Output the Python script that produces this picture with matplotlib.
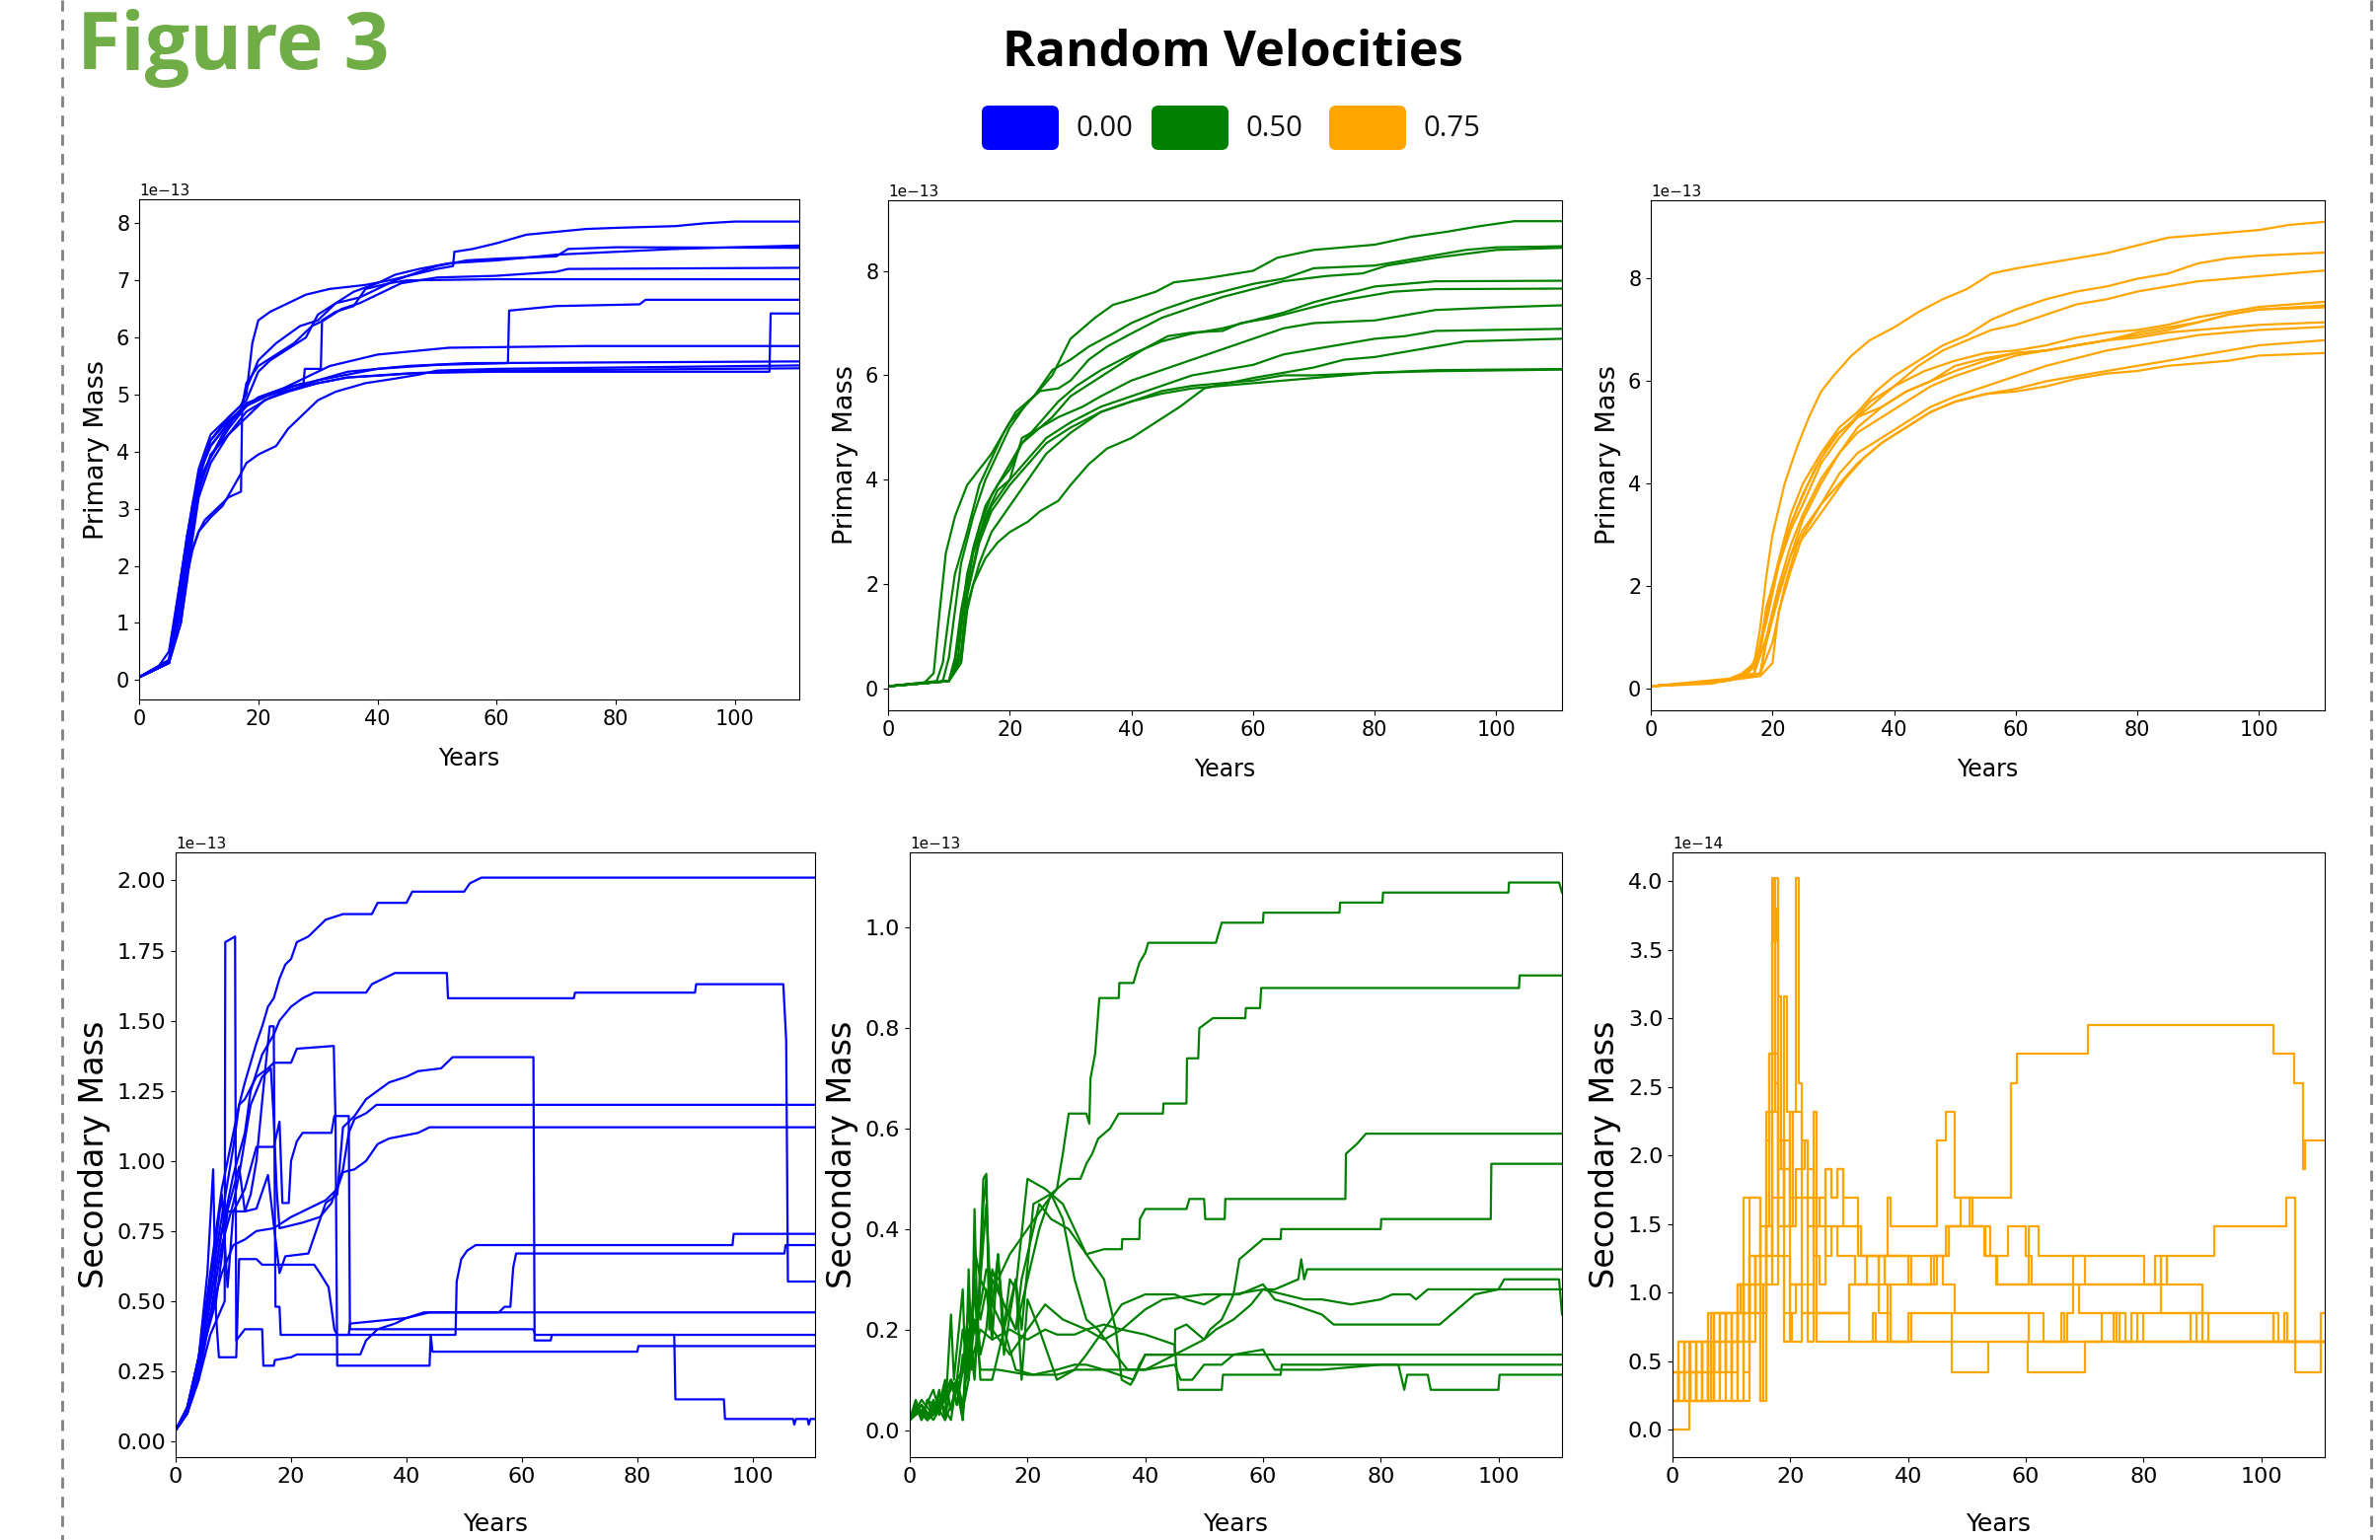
import matplotlib
matplotlib.use("Agg")
import matplotlib.pyplot as plt
from matplotlib.patches import FancyBboxPatch
from matplotlib.ticker import MultipleLocator

# ---- data: (years, mass) per run; mass in units of the panel's axis offset ----
blue_primary = [
    [(0, 0.05), (3, 0.2), (5, 0.5), (7, 1.8), (8, 2.5), (9, 3.0), (10, 3.5), (12, 4.2), (15, 4.6), (17, 4.8),
     (18, 5.0), (19, 5.9), (20, 6.3), (22, 6.45), (25, 6.6), (28, 6.75), (32, 6.85), (38, 6.92), (42, 7.0),
     (46, 7.1), (50, 7.2), (52.7, 7.25), (52.9, 7.5), (56, 7.55), (60, 7.65), (65, 7.8), (70, 7.85), (75, 7.9),
     (80, 7.92), (90, 7.95), (95, 8.0), (100, 8.03), (110.8, 8.03)],
    [(0, 0.05), (5, 0.3), (7, 1.2), (8, 2.2), (9, 3.0), (10, 3.6), (12, 4.1), (15, 4.5), (17, 4.7), (18, 5.1),
     (20, 5.6), (23, 5.9), (27, 6.2), (30, 6.3), (33, 6.6), (36, 6.8), (40, 6.95), (43, 7.1), (47, 7.2),
     (52, 7.3), (60, 7.35), (70, 7.45), (80, 7.5), (90, 7.55), (100, 7.58), (110.8, 7.61)],
    [(0, 0.05), (5, 0.35), (7, 1.5), (8, 2.5), (10, 3.7), (12, 4.3), (15, 4.6), (18, 4.9), (20, 5.4), (22, 5.6),
     (25, 5.8), (28, 6.0), (30, 6.4), (33, 6.6), (37, 6.7), (40, 6.85), (43, 7.0), (47, 7.15), (50, 7.25),
     (55, 7.35), (60, 7.38), (70, 7.42), (72, 7.55), (80, 7.58), (110.8, 7.57)],
    [(0, 0.05), (5, 0.3), (7, 1.0), (8, 1.8), (9, 2.3), (10, 2.6), (11, 2.8), (13, 3.0), (15, 3.2), (17.1, 3.3),
     (17.3, 4.8), (18, 5.2), (20, 5.5), (23, 5.7), (26, 5.9), (29, 6.2), (31, 6.3), (34, 6.5), (37, 6.6),
     (40, 6.75), (44, 6.95), (50, 7.05), (60, 7.08), (70, 7.15), (72, 7.2), (110.8, 7.22)],
    [(0, 0.05), (5, 0.3), (7, 1.2), (8, 2.0), (9, 2.8), (10, 3.4), (12, 3.9), (14, 4.3), (16, 4.6), (18, 4.8),
     (20, 4.95), (24, 5.1), (27.6, 5.2), (27.8, 5.45), (30.5, 5.45), (30.7, 6.3), (33, 6.45), (36, 6.55),
     (38, 6.85), (42, 6.95), (45, 7.0), (60, 7.02), (110.8, 7.02)],
    [(0, 0.05), (5, 0.3), (7, 1.5), (9, 2.8), (10, 3.6), (12, 4.1), (15, 4.5), (18, 4.85), (22, 5.0), (26, 5.15),
     (30, 5.25), (35, 5.4), (40, 5.45), (50, 5.52), (61.9, 5.55), (62.1, 6.47), (70, 6.55), (84, 6.58),
     (85, 6.66), (110.8, 6.66)],
    [(0, 0.05), (5, 0.3), (7, 1.7), (9, 3.0), (10, 3.6), (12, 4.2), (15, 4.55), (18, 4.8), (22, 5.0), (26, 5.1),
     (30, 5.2), (35, 5.3), (40, 5.33), (47, 5.38), (60, 5.4), (105.8, 5.4), (106, 6.42), (110.8, 6.42)],
    [(0, 0.05), (5, 0.35), (7, 1.8), (9, 3.1), (10, 3.5), (12, 3.9), (15, 4.4), (18, 4.8), (20, 4.95), (24, 5.1),
     (28, 5.3), (32, 5.5), (36, 5.6), (40, 5.7), (45, 5.75), (52, 5.82), (75, 5.85), (110.8, 5.85)],
    [(0, 0.05), (5, 0.3), (7, 1.3), (9, 2.6), (10, 3.3), (12, 3.95), (15, 4.3), (18, 4.7), (22, 4.95), (26, 5.1),
     (30, 5.25), (35, 5.35), (40, 5.45), (45, 5.5), (55, 5.55), (110.8, 5.58)],
    [(0, 0.05), (5, 0.3), (8, 2.0), (10, 2.6), (12, 2.85), (14, 3.05), (17, 3.6), (18, 3.8), (20, 3.95),
     (23, 4.1), (25, 4.4), (28, 4.7), (30, 4.9), (33, 5.05), (38, 5.2), (43, 5.28), (47, 5.35), (50, 5.42),
     (60, 5.45), (110.8, 5.51)],
    [(0, 0.05), (5, 0.3), (7, 1.0), (8, 1.7), (9, 2.5), (10, 3.2), (12, 3.8), (15, 4.3), (18, 4.6), (21, 4.9),
     (25, 5.05), (30, 5.2), (35, 5.3), (45, 5.37), (60, 5.42), (110.8, 5.46)],
]

green_primary = [
    [(0, 0.05), (6, 0.12), (7.5, 0.3), (8.5, 1.5), (9.5, 2.6), (11, 3.3), (13, 3.9), (15, 4.2), (17, 4.5),
     (20, 5.1), (24, 5.6), (27, 6.0), (30, 6.7), (34, 7.1), (37, 7.35), (40, 7.45), (44, 7.6), (47, 7.78),
     (52, 7.85), (60, 8.0), (64, 8.25), (70, 8.4), (80, 8.5), (86, 8.65), (92, 8.75), (97, 8.85), (103, 8.95),
     (110.8, 8.95)],
    [(0, 0.05), (8, 0.15), (9, 0.5), (10, 1.4), (11, 2.2), (13, 3.0), (15, 3.9), (17, 4.4), (19, 4.9), (21, 5.3),
     (24, 5.6), (27, 6.1), (30, 6.3), (33, 6.55), (37, 6.8), (40, 7.0), (45, 7.25), (50, 7.45), (55, 7.6),
     (60, 7.75), (65, 7.85), (70, 8.05), (80, 8.1), (85, 8.2), (90, 8.3), (95, 8.4), (100, 8.45), (110.8, 8.47)],
    [(0, 0.05), (9, 0.15), (10, 0.6), (11, 1.5), (12, 2.4), (14, 3.3), (16, 4.0), (18, 4.5), (20, 5.0),
     (23, 5.5), (25, 5.7), (28, 5.75), (30, 5.9), (33, 6.3), (36, 6.55), (40, 6.8), (45, 7.1), (50, 7.3),
     (55, 7.5), (60, 7.65), (65, 7.8), (72, 7.9), (78, 7.95), (82, 8.1), (90, 8.25), (100, 8.4), (110.8, 8.44)],
    [(0, 0.05), (10, 0.15), (11, 0.5), (12, 1.3), (13, 2.2), (15, 3.1), (17, 3.7), (20, 4.3), (22, 4.7),
     (25, 5.1), (28, 5.5), (31, 5.8), (35, 6.1), (40, 6.4), (45, 6.65), (50, 6.8), (55, 6.9), (60, 7.05),
     (65, 7.2), (70, 7.4), (75, 7.55), (80, 7.7), (90, 7.8), (110.8, 7.81)],
    [(0, 0.05), (10, 0.15), (11, 0.6), (12, 1.5), (14, 2.7), (16, 3.5), (18, 3.9), (20, 4.2), (22, 4.7),
     (24, 4.9), (27, 5.2), (30, 5.6), (34, 5.9), (38, 6.2), (42, 6.5), (46, 6.75), (50, 6.82), (55, 6.85),
     (58, 7.0), (63, 7.1), (68, 7.25), (73, 7.4), (78, 7.5), (83, 7.6), (90, 7.65), (110.8, 7.66)],
    [(0, 0.05), (10, 0.15), (11.5, 0.6), (12.5, 1.6), (14, 2.6), (16, 3.3), (18, 3.8), (20, 4.0), (22, 4.8),
     (25, 5.0), (28, 5.2), (32, 5.4), (35, 5.6), (40, 5.9), (45, 6.1), (50, 6.3), (55, 6.5), (60, 6.7),
     (65, 6.9), (70, 7.0), (80, 7.05), (85, 7.15), (90, 7.25), (100, 7.3), (110.8, 7.34)],
    [(0, 0.05), (10, 0.15), (12, 0.6), (13, 1.8), (15, 2.9), (17, 3.5), (20, 4.0), (23, 4.4), (26, 4.8),
     (30, 5.1), (35, 5.4), (40, 5.6), (45, 5.8), (50, 6.0), (55, 6.1), (60, 6.2), (65, 6.4), (70, 6.5),
     (75, 6.6), (80, 6.7), (85, 6.75), (90, 6.85), (110.8, 6.89)],
    [(0, 0.05), (10, 0.15), (12, 0.5), (13, 1.5), (14, 2.0), (16, 2.5), (18, 2.8), (20, 3.0), (23, 3.2),
     (25, 3.4), (28, 3.6), (30, 3.9), (33, 4.3), (36, 4.6), (40, 4.8), (44, 5.1), (48, 5.4), (52, 5.75),
     (56, 5.85), (60, 5.95), (65, 6.05), (70, 6.15), (75, 6.3), (80, 6.35), (85, 6.45), (90, 6.55), (95, 6.65),
     (110.8, 6.70)],
    [(0, 0.05), (10, 0.15), (12, 0.5), (13, 1.6), (15, 2.4), (17, 3.0), (20, 3.5), (23, 4.0), (26, 4.5),
     (30, 4.9), (35, 5.3), (40, 5.5), (45, 5.7), (50, 5.8), (55, 5.85), (60, 5.9), (65, 6.0), (70, 6.0),
     (80, 6.05), (90, 6.1), (110.8, 6.12)],
    [(0, 0.05), (10, 0.15), (12, 0.7), (13, 1.8), (15, 2.8), (17, 3.4), (20, 3.9), (23, 4.3), (26, 4.7),
     (30, 5.0), (35, 5.3), (40, 5.5), (45, 5.65), (50, 5.75), (55, 5.8), (60, 5.85), (70, 5.95), (80, 6.05),
     (90, 6.08), (110.8, 6.11)],
]

orange_primary = [
    [(0, 0.05), (10, 0.1), (14, 0.2), (17, 0.5), (18, 1.2), (19, 2.2), (20, 3.0), (22, 4.0), (24, 4.7),
     (26, 5.3), (28, 5.8), (30, 6.1), (33, 6.5), (36, 6.8), (40, 7.05), (44, 7.35), (48, 7.6), (52, 7.8),
     (56, 8.1), (60, 8.2), (65, 8.3), (70, 8.4), (75, 8.5), (80, 8.65), (85, 8.8), (90, 8.85), (95, 8.9),
     (100, 8.95), (105, 9.05), (110.8, 9.11)],
    [(0, 0.05), (12, 0.15), (16, 0.3), (18, 0.7), (19, 1.5), (21, 2.5), (23, 3.4), (25, 4.0), (28, 4.6),
     (31, 5.1), (34, 5.4), (37, 5.8), (40, 6.1), (44, 6.4), (48, 6.7), (52, 6.9), (56, 7.2), (60, 7.4),
     (65, 7.6), (70, 7.75), (75, 7.85), (80, 8.0), (85, 8.1), (90, 8.3), (95, 8.4), (100, 8.45), (110.8, 8.51)],
    [(0, 0.05), (12, 0.15), (16, 0.3), (18, 0.8), (19, 1.6), (21, 2.4), (23, 3.2), (25, 3.8), (28, 4.5),
     (31, 5.0), (34, 5.3), (37, 5.6), (40, 5.9), (44, 6.3), (48, 6.6), (52, 6.8), (56, 7.0), (60, 7.1),
     (65, 7.3), (70, 7.5), (75, 7.6), (80, 7.75), (85, 7.85), (90, 7.95), (100, 8.05), (110.8, 8.16)],
    [(0, 0.05), (12, 0.15), (17, 0.3), (18, 0.9), (20, 2.0), (22, 2.9), (24, 3.5), (27, 4.3), (30, 4.9),
     (33, 5.2), (36, 5.6), (40, 5.9), (45, 6.2), (50, 6.4), (55, 6.55), (60, 6.6), (65, 6.7), (70, 6.85),
     (75, 6.95), (80, 7.0), (85, 7.1), (90, 7.25), (95, 7.35), (100, 7.45), (110.8, 7.55)],
    [(0, 0.05), (13, 0.2), (17, 0.4), (19, 1.3), (21, 2.4), (23, 3.1), (25, 3.6), (28, 4.4), (31, 4.9),
     (34, 5.3), (38, 5.5), (42, 5.8), (46, 6.0), (50, 6.3), (55, 6.45), (60, 6.55), (65, 6.6), (70, 6.7),
     (75, 6.8), (80, 6.95), (85, 7.05), (90, 7.15), (95, 7.3), (100, 7.4), (110.8, 7.48)],
    [(0, 0.05), (12, 0.15), (17, 0.3), (19, 1.0), (21, 2.0), (23, 2.8), (25, 3.4), (28, 4.1), (31, 4.6),
     (34, 5.0), (38, 5.3), (42, 5.6), (46, 5.9), (50, 6.1), (55, 6.3), (60, 6.5), (65, 6.6), (70, 6.7),
     (75, 6.8), (80, 6.9), (85, 7.0), (90, 7.15), (95, 7.3), (100, 7.4), (110.8, 7.44)],
    [(0, 0.05), (12, 0.15), (18, 0.3), (19, 0.9), (21, 1.8), (23, 2.6), (25, 3.3), (28, 4.0), (31, 4.6),
     (34, 5.1), (38, 5.5), (42, 5.8), (46, 6.0), (50, 6.2), (55, 6.4), (60, 6.55), (65, 6.6), (70, 6.7),
     (75, 6.8), (80, 6.85), (85, 6.95), (90, 7.0), (95, 7.05), (100, 7.1), (110.8, 7.15)],
    [(0, 0.05), (12, 0.15), (18, 0.25), (20, 0.5), (21, 1.5), (23, 2.3), (25, 3.0), (28, 3.6), (31, 4.2),
     (34, 4.6), (38, 4.9), (42, 5.2), (46, 5.5), (50, 5.7), (55, 5.9), (60, 6.1), (65, 6.3), (70, 6.45),
     (75, 6.6), (80, 6.7), (85, 6.8), (90, 6.9), (100, 7.0), (110.8, 7.06)],
    [(0, 0.05), (12, 0.15), (18, 0.3), (19, 1.0), (21, 1.9), (23, 2.6), (25, 3.1), (28, 3.6), (31, 4.0),
     (34, 4.4), (38, 4.8), (42, 5.1), (46, 5.4), (50, 5.6), (55, 5.75), (60, 5.85), (65, 6.0), (70, 6.1),
     (75, 6.2), (80, 6.3), (85, 6.4), (90, 6.5), (95, 6.6), (100, 6.7), (110.8, 6.80)],
    [(0, 0.05), (12, 0.15), (18, 0.3), (20, 0.9), (22, 2.0), (24, 2.8), (26, 3.1), (29, 3.6), (32, 4.1),
     (35, 4.5), (38, 4.8), (42, 5.1), (46, 5.4), (50, 5.6), (55, 5.75), (60, 5.8), (65, 5.9), (70, 6.05),
     (75, 6.15), (80, 6.2), (85, 6.3), (90, 6.35), (95, 6.4), (100, 6.5), (110.8, 6.55)],
]

blue_secondary = [
    [(0, 0.04), (2, 0.12), (4, 0.28), (6, 0.55), (8, 0.8), (10, 1.05), (11, 1.2), (12, 1.28), (13, 1.35),
     (14, 1.42), (15, 1.48), (16, 1.55), (17, 1.58), (18, 1.65), (19, 1.7), (20, 1.72), (21, 1.78), (23, 1.8),
     (24, 1.82), (25, 1.84), (26, 1.86), (29, 1.88), (34, 1.88), (35, 1.92), (40, 1.92), (41, 1.96), (50, 1.96),
     (51, 1.99), (53, 2.01), (110.8, 2.01)],
    [(0, 0.04), (2, 0.1), (4, 0.25), (6, 0.5), (8, 0.75), (10, 0.95), (12, 1.1), (13, 1.25), (15, 1.38),
     (17, 1.45), (18, 1.5), (20, 1.55), (22, 1.58), (24, 1.6), (33, 1.6), (34, 1.63), (36, 1.65), (38, 1.67),
     (47, 1.67), (47.2, 1.58), (69, 1.58), (69.2, 1.6), (90, 1.6), (90.2, 1.63), (105.3, 1.63), (105.8, 1.43),
     (106.1, 0.57), (110.8, 0.57)],
    [(0, 0.04), (2, 0.12), (4, 0.3), (6, 0.55), (8, 0.88), (9, 0.55), (10, 0.82), (12, 0.9), (14, 1.05),
     (17, 1.05), (18, 1.14), (18.5, 0.85), (19.6, 0.85), (20, 1.0), (21, 1.07), (22, 1.1), (27, 1.1),
     (27.5, 1.16), (30, 1.16), (30.2, 0.40), (62, 0.40), (62.3, 0.38), (110.8, 0.38)],
    [(0, 0.04), (2, 0.1), (4, 0.25), (6, 0.45), (8, 0.6), (10, 0.7), (12, 0.72), (14, 0.75), (17, 0.76),
     (20, 0.8), (23, 0.83), (26, 0.86), (28, 0.9), (29, 0.96), (31, 0.97), (33, 1.0), (35, 1.06), (37, 1.08),
     (42, 1.1), (44, 1.12), (110.8, 1.12)],
    [(0, 0.04), (2, 0.12), (4, 0.3), (6, 0.5), (8, 0.75), (10, 0.9), (11, 0.98), (12, 0.82), (14, 0.83),
     (16, 0.95), (18, 0.6), (19, 0.66), (23, 0.67), (26, 0.85), (28, 0.88), (29, 1.12), (31, 1.16), (33, 1.22),
     (35, 1.25), (37, 1.28), (40, 1.3), (42, 1.32), (46, 1.33), (48, 1.37), (62, 1.37), (62.2, 0.36),
     (65, 0.36), (65.2, 0.38), (86.4, 0.38), (86.6, 0.15), (95, 0.15), (95.2, 0.08), (107, 0.08),
     (107.2, 0.06), (107.5, 0.08), (109.5, 0.08), (109.7, 0.06), (110, 0.08), (110.8, 0.08)],
    [(0, 0.04), (2, 0.1), (4, 0.22), (6, 0.45), (8, 0.7), (10, 0.85), (11, 0.95), (13, 1.2), (15, 1.3),
     (16.5, 1.33), (17, 1.15), (17.5, 0.9), (18, 0.76), (22, 0.78), (25, 0.8), (27, 0.85), (29, 0.97),
     (30, 1.1), (31, 1.15), (33, 1.17), (34.8, 1.2), (110.8, 1.2)],
    [(0, 0.04), (2, 0.12), (4, 0.3), (6, 0.6), (8, 0.9), (10, 1.1), (11, 1.2), (12, 1.22), (14, 1.3), (16, 1.33),
     (17, 1.35), (20, 1.35), (21, 1.4), (27.4, 1.41), (27.7, 1.15), (28, 0.27), (44, 0.27), (44.2, 0.38),
     (44.5, 0.32), (80, 0.32), (80.2, 0.34), (110.8, 0.34)],
    [(0, 0.04), (2, 0.1), (4, 0.22), (6, 0.38), (8.5, 0.5), (8.6, 1.78), (10.3, 1.8), (10.5, 0.36), (12, 0.4),
     (15, 0.4), (15.2, 0.27), (17, 0.27), (17.2, 0.29), (20, 0.3), (21, 0.31), (32, 0.31), (33, 0.36),
     (35, 0.4), (38, 0.42), (40, 0.44), (44, 0.46), (110.8, 0.46)],
    [(0, 0.04), (2, 0.1), (4, 0.3), (5.5, 0.6), (6.5, 0.97), (7, 0.45), (7.5, 0.3), (10.5, 0.3), (11, 0.65),
     (14, 0.65), (15, 0.63), (24, 0.63), (25, 0.6), (26.5, 0.55), (27.5, 0.4), (28, 0.38), (48.5, 0.38),
     (48.7, 0.57), (49.5, 0.65), (50.5, 0.68), (52, 0.7), (96.5, 0.7), (96.7, 0.74), (110.8, 0.74)],
    [(0, 0.04), (2, 0.1), (4, 0.25), (5, 0.35), (7, 0.5), (9, 0.82), (12, 0.82), (13, 0.88), (14, 1.0),
     (15.5, 1.32), (16.3, 1.48), (17, 1.48), (17.3, 0.48), (18, 0.48), (18.2, 0.38), (30, 0.38), (30.2, 0.42),
     (40, 0.44), (43, 0.46), (56, 0.46), (57, 0.48), (58, 0.48), (58.5, 0.62), (59, 0.67), (105.5, 0.67),
     (105.7, 0.70), (110.8, 0.70)],
]

green_secondary = [
    [(0, 0.02), (1, 0.05), (2, 0.02), (3, 0.06), (5, 0.04), (6, 0.09), (8, 0.08), (10, 0.15), (12, 0.25),
     (13, 0.32), (15, 0.3), (17, 0.35), (20, 0.4), (23, 0.45), (25, 0.48), (26, 0.55), (27, 0.63), (30, 0.63),
     (30.5, 0.61), (30.7, 0.7), (31.5, 0.75), (32.2, 0.86), (35.5, 0.86), (35.6, 0.89), (38, 0.89), (39, 0.93),
     (40, 0.95), (40.5, 0.97), (52, 0.97), (52.5, 0.99), (53, 1.01), (60, 1.01), (60.1, 1.03), (73, 1.03),
     (73.1, 1.05), (80.3, 1.05), (80.4, 1.07), (101.7, 1.07), (101.8, 1.09), (110.3, 1.09), (110.8, 1.07)],
    [(0, 0.02), (2, 0.04), (3, 0.02), (5, 0.06), (7, 0.02), (8, 0.1), (9, 0.02), (10, 0.2), (11, 0.12),
     (12, 0.3), (14, 0.25), (16, 0.2), (18, 0.3), (19, 0.2), (21, 0.45), (24, 0.47), (27, 0.5), (29, 0.5),
     (30, 0.53), (31, 0.55), (32, 0.58), (34, 0.6), (35.5, 0.63), (43, 0.63), (43.1, 0.65), (47, 0.65),
     (47.1, 0.74), (49, 0.74), (49.2, 0.8), (51.5, 0.82), (57, 0.82), (57.1, 0.84), (59.5, 0.84), (59.7, 0.88),
     (103.5, 0.88), (103.6, 0.905), (110.8, 0.905)],
    [(0, 0.02), (2, 0.06), (4, 0.03), (5, 0.05), (7, 0.1), (8, 0.05), (9, 0.12), (10, 0.2), (11, 0.1),
     (12, 0.3), (12.5, 0.45), (13, 0.5), (13.5, 0.25), (14, 0.25), (15, 0.35), (16, 0.2), (17, 0.3), (18, 0.28),
     (20, 0.5), (23, 0.48), (26, 0.45), (28, 0.4), (30, 0.35), (33, 0.36), (36, 0.36), (36.1, 0.38), (39, 0.38),
     (39.1, 0.42), (40, 0.44), (47, 0.44), (47.5, 0.46), (50, 0.46), (50.2, 0.42), (53.5, 0.42), (53.6, 0.46),
     (74, 0.46), (74.1, 0.55), (76, 0.57), (77.5, 0.59), (110.8, 0.59)],
    [(0, 0.02), (1, 0.06), (2, 0.03), (4, 0.08), (5, 0.04), (7, 0.1), (8, 0.05), (9, 0.15), (10, 0.1),
     (11, 0.3), (12, 0.15), (13, 0.2), (14, 0.32), (16, 0.25), (18, 0.2), (19, 0.3), (20, 0.35), (22, 0.45),
     (24, 0.42), (27, 0.4), (30, 0.35), (33, 0.3), (35, 0.2), (36, 0.1), (37.5, 0.09), (38, 0.1), (40, 0.15),
     (45, 0.15), (45.1, 0.2), (47, 0.21), (48, 0.2), (50, 0.18), (51, 0.2), (53, 0.22), (55, 0.27), (56, 0.34),
     (58, 0.36), (60, 0.38), (63, 0.38), (63.1, 0.4), (80, 0.4), (80.1, 0.42), (98.7, 0.42), (98.8, 0.53),
     (110.8, 0.53)],
    [(0, 0.02), (2, 0.04), (3, 0.02), (4, 0.06), (5, 0.03), (6, 0.08), (7, 0.04), (8, 0.1), (9, 0.12),
     (10, 0.25), (10.5, 0.12), (11, 0.44), (11.5, 0.2), (12, 0.35), (12.5, 0.5), (13, 0.51), (13.5, 0.2),
     (14, 0.3), (16, 0.25), (18, 0.2), (20, 0.3), (22, 0.4), (24, 0.47), (26, 0.42), (28, 0.3), (30, 0.22),
     (32, 0.2), (35, 0.15), (37, 0.12), (40, 0.12), (45, 0.15), (50, 0.18), (52, 0.2), (55, 0.22), (58, 0.25),
     (60, 0.28), (62, 0.28), (66, 0.3), (66.5, 0.34), (67, 0.3), (67.5, 0.32), (110.8, 0.32)],
    [(0, 0.02), (2, 0.05), (4, 0.02), (5, 0.04), (7, 0.08), (8, 0.1), (9, 0.05), (10, 0.15), (11, 0.3),
     (12, 0.22), (13, 0.28), (14, 0.18), (15, 0.35), (16, 0.15), (17, 0.23), (18, 0.3), (19, 0.1), (20, 0.26),
     (22, 0.2), (25, 0.1), (28, 0.12), (30, 0.15), (33, 0.2), (36, 0.25), (40, 0.27), (45, 0.27), (47, 0.26),
     (50, 0.25), (53, 0.27), (56, 0.27), (60, 0.29), (62, 0.26), (65, 0.25), (70, 0.23), (72, 0.21), (90, 0.21),
     (92, 0.23), (94, 0.25), (96, 0.27), (100, 0.28), (101, 0.3), (110.3, 0.3), (110.8, 0.23)],
    [(0, 0.02), (2, 0.05), (3, 0.02), (5, 0.07), (6, 0.03), (7, 0.23), (7.5, 0.1), (8, 0.16), (9, 0.28),
     (9.5, 0.1), (10, 0.32), (10.5, 0.14), (11, 0.36), (12, 0.3), (13, 0.45), (14, 0.2), (17, 0.15), (20, 0.2),
     (23, 0.25), (26, 0.22), (30, 0.2), (33, 0.18), (36, 0.2), (40, 0.24), (43, 0.26), (50, 0.27), (55, 0.27),
     (60, 0.28), (67, 0.26), (70, 0.26), (75, 0.25), (80, 0.26), (82, 0.27), (85, 0.27), (86, 0.26), (88, 0.28),
     (110.8, 0.28)],
    [(0, 0.02), (2, 0.05), (3, 0.03), (5, 0.05), (6, 0.1), (7, 0.04), (8, 0.1), (9, 0.2), (10, 0.12),
     (11, 0.28), (12, 0.1), (14, 0.1), (16, 0.2), (18, 0.12), (21, 0.11), (25, 0.12), (28, 0.13), (30, 0.13),
     (33, 0.12), (38, 0.1), (39, 0.13), (40, 0.15), (110.8, 0.15)],
    [(0, 0.02), (1, 0.04), (3, 0.02), (5, 0.04), (6, 0.02), (8, 0.08), (9, 0.04), (10, 0.1), (11, 0.22),
     (12, 0.12), (15, 0.12), (20, 0.11), (25, 0.11), (28, 0.12), (35, 0.12), (40, 0.12), (45, 0.13), (46, 0.1),
     (48, 0.1), (50, 0.13), (53, 0.13), (55, 0.15), (60, 0.16), (62, 0.12), (70, 0.12), (80, 0.13),
     (110.8, 0.13)],
    [(0, 0.02), (1, 0.05), (2, 0.02), (3, 0.06), (4, 0.03), (5, 0.08), (6, 0.02), (7, 0.1), (8, 0.08),
     (9, 0.02), (9.5, 0.15), (10, 0.12), (12, 0.2), (14, 0.18), (17, 0.2), (20, 0.18), (23, 0.2), (25, 0.19),
     (28, 0.19), (30, 0.2), (33, 0.21), (36, 0.2), (40, 0.19), (45, 0.17), (45.6, 0.08), (53, 0.08),
     (53.2, 0.11), (63, 0.11), (63.2, 0.13), (83, 0.13), (84, 0.08), (84.5, 0.11), (88, 0.11), (88.5, 0.08),
     (100, 0.08), (100.2, 0.11), (110.8, 0.11)],
]

# orange secondary is drawn as steps: each value holds until the next year listed
orange_secondary = [
    [(0, 0.21), (1, 0.42), (2, 0.21), (3, 0.42), (4, 0.21), (6, 0.42), (7, 0.64), (8, 0.42), (9, 0.85),
     (10, 0.64), (11, 1.06), (12, 0.85), (13, 1.27), (14, 1.06), (15, 1.48), (16, 1.27), (17, 1.69), (18, 1.48),
     (19, 1.9), (20, 1.69), (21, 1.9), (22, 1.69), (24, 1.48), (25, 1.69), (26, 1.48), (28, 1.27), (31, 1.06),
     (33, 1.27), (35, 1.06), (36, 1.27), (36.5, 1.69), (37, 1.48), (45, 2.11), (46.5, 2.32), (48, 1.69),
     (57.5, 2.53), (58.5, 2.74), (70.6, 2.95), (102.1, 2.74), (105.6, 2.53), (107.1, 1.9), (107.4, 2.11),
     (110.8, 2.11)],
    [(0, 0.42), (1, 0.21), (2, 0.64), (3, 0.42), (4, 0.21), (5, 0.64), (6, 0.21), (7, 0.42), (8, 0.85),
     (9, 0.42), (10, 0.64), (11, 0.85), (12, 1.06), (13, 0.64), (14, 1.27), (15, 0.85), (16, 2.11), (16.5, 2.74),
     (17, 4.02), (17.3, 3.56), (17.6, 3.8), (18, 1.9), (19, 0.85), (20.2, 0.64), (22, 0.85), (30, 0.64),
     (34, 0.85), (34.5, 0.64), (40.5, 0.85), (60.5, 0.64), (66, 0.85), (66.5, 0.64), (75, 0.85), (75.5, 0.64),
     (104, 0.85), (104.5, 0.64), (110.8, 0.64)],
    [(0, 0.0), (2.8, 0.64), (4, 0.42), (5, 0.64), (6, 0.21), (7, 0.85), (8, 0.64), (9, 0.85), (10, 0.21),
     (11, 1.06), (12, 0.21), (13, 1.69), (15, 1.27), (16, 2.32), (17.5, 4.02), (18, 3.16), (18.5, 1.9),
     (19, 3.16), (19.5, 2.32), (20, 1.48), (20.5, 2.32), (21, 4.02), (21.5, 2.53), (22, 1.9), (22.5, 2.11),
     (23, 0.64), (24, 2.32), (24.5, 0.64), (36, 0.64), (36.5, 1.06), (37, 0.64), (110.8, 0.64)],
    [(0, 0.21), (1, 0.42), (2, 0.21), (4, 0.42), (5, 0.21), (6.5, 0.85), (11.5, 1.06), (12, 1.69), (15, 1.27),
     (17, 1.06), (18, 1.27), (20, 1.06), (22, 1.69), (26, 1.9), (27, 1.69), (28, 1.9), (29, 1.69), (31.5, 1.27),
     (40.5, 1.06), (44.5, 1.27), (46.5, 1.48), (53.2, 1.27), (55.2, 1.06), (60.5, 1.48), (62.2, 1.27),
     (80.2, 1.06), (82, 1.27), (83, 1.06), (84, 1.27), (92, 1.48), (104.2, 1.69), (105.8, 0.42), (110.2, 0.85),
     (110.8, 0.85)],
    [(0, 0.42), (1, 0.21), (2, 0.42), (3, 0.64), (4, 0.21), (5, 0.42), (6, 0.21), (7, 0.64), (8, 0.21),
     (9, 0.85), (10, 0.42), (11, 1.06), (12, 0.64), (13, 1.06), (14, 1.27), (15, 0.85), (16, 1.48), (17, 1.27),
     (18, 2.11), (19, 1.48), (21, 1.69), (23, 1.48), (26, 1.27), (27, 1.48), (32, 1.27), (40, 1.06), (45, 1.27),
     (47, 1.48), (50.5, 1.69), (51, 1.48), (53, 1.27), (55, 1.06), (83, 1.27), (84, 1.06), (90, 0.64),
     (110.8, 0.64)],
    [(0, 0.21), (1, 0.42), (2, 0.64), (3, 0.21), (4, 0.64), (5, 0.42), (6, 0.64), (7, 0.21), (8, 0.85),
     (9, 0.21), (10, 0.64), (11, 0.21), (12, 0.85), (13, 1.27), (14, 0.85), (15, 0.21), (15.5, 1.06),
     (17, 2.32), (18, 1.27), (19, 0.64), (20, 1.06), (22, 0.85), (30, 1.06), (35, 0.85), (37, 0.64), (40, 0.85),
     (47.5, 0.42), (53.7, 0.64), (60.4, 0.42), (70, 0.64), (73, 0.85), (76, 0.64), (79, 0.85), (80, 0.64),
     (88, 0.85), (89, 0.64), (110.8, 0.64)],
    [(0, 0.42), (1, 0.64), (2, 0.42), (3, 0.21), (4, 0.64), (5, 0.21), (6, 0.85), (7, 0.42), (8, 0.64),
     (9, 0.42), (10, 0.85), (11, 0.64), (12, 1.06), (13, 0.85), (14, 1.06), (16, 1.27), (17, 2.74), (18, 2.11),
     (19, 1.9), (20, 2.32), (22, 2.11), (23, 1.9), (24, 1.27), (25, 1.06), (26, 1.9), (27, 1.69), (28, 1.9),
     (29, 1.48), (32, 1.27), (47, 1.48), (49, 1.69), (51, 1.48), (54, 1.27), (57, 1.48), (60, 1.27), (61, 1.06),
     (68, 1.27), (70, 1.06), (83, 0.85), (102, 0.64), (110.8, 0.64)],
    [(0, 0.21), (1, 0.64), (2, 0.21), (3, 0.42), (5, 0.64), (6, 0.42), (7, 0.85), (9, 0.64), (10, 0.21),
     (11, 0.85), (12, 0.42), (13, 1.06), (14, 0.85), (15, 0.21), (16, 1.48), (16.5, 2.74), (17, 3.56),
     (17.5, 2.53), (18, 1.69), (19, 2.11), (20, 0.85), (21, 1.06), (24, 0.85), (30, 1.06), (35, 1.27),
     (36, 1.06), (44, 1.27), (46, 1.06), (48, 0.85), (63, 0.64), (67, 0.85), (68, 1.06), (69, 0.85),
     (77, 0.64), (78, 0.85), (91, 0.64), (102, 0.85), (103, 0.64), (110.8, 0.64)],
]

vel_labels = ['0.00', '0.50', '0.75']
vel_colors = ['blue', 'green', 'orange']

W, H = 2412, 1561
fig = plt.figure(figsize=(W / 100, H / 100), dpi=100)

# overlay in pixel coordinates for the header and frame
bg = fig.add_axes([0, 0, 1, 1])
bg.set_xlim(0, W)
bg.set_ylim(H, 0)
bg.axis('off')
bg.plot([63, 63], [0, H], color='#808080', lw=2, dashes=(4, 3))
bg.plot([2403, 2403], [0, H], color='#808080', lw=2, dashes=(4, 3))
bg.text(78, 70, 'Figure 3', color='#70AD47', fontsize=58, fontweight='bold',
        family=['Open Sans', 'DejaVu Sans'], va='baseline', ha='left')
bg.text(1249, 67, 'Random Velocities', color='black', fontsize=36.5, fontweight='bold',
        family=['Open Sans', 'DejaVu Sans'], va='baseline', ha='center')
for x0, lab, col in zip([995, 1167, 1347], vel_labels, vel_colors):
    bg.add_patch(FancyBboxPatch((x0, 107), 78, 45, boxstyle='round,pad=0,rounding_size=7',
                                facecolor=col, edgecolor='none'))
    bg.text(x0 + 96, 130, lab, fontsize=21, family=['Open Sans', 'DejaVu Sans'],
            va='center', ha='left', color='#111111')


def panel(rect, runs, color, scale, ylo, yhi, ystep, ylabel, row, steps=False):
    ax = fig.add_axes(rect)
    for run in runs:
        xs = [p[0] for p in run]
        ys = [p[1] * scale for p in run]
        ax.plot(xs, ys, color=color, lw=1.6, drawstyle='steps-post' if steps else 'default')
    ax.set_xlim(0, 110.8)
    ax.set_ylim(ylo * scale, yhi * scale)
    ax.xaxis.set_major_locator(MultipleLocator(20))
    ax.yaxis.set_major_locator(MultipleLocator(ystep * scale))
    tick_fs, xl_fs, yl_fs = (15, 17, 19.5) if row == 0 else (16, 18, 24)
    ax.tick_params(labelsize=tick_fs)
    ax.yaxis.get_offset_text().set_fontsize(11)
    ax.set_xlabel('Years', fontsize=xl_fs, labelpad=13 if row == 0 else 19)
    ax.set_ylabel(ylabel, fontsize=yl_fs, labelpad=5)
    return ax


top_b, top_h = 1 - 720 / H, 517 / H
bot_b, bot_h = 1 - 1477 / H, 613 / H
panel([141 / W, 1 - 709 / H, 669 / W, 507 / H], blue_primary, 'blue', 1e-13, -0.34, 8.42, 1, 'Primary Mass', 0)
panel([900 / W, top_b, 683 / W, top_h], green_primary, 'green', 1e-13, -0.41, 9.35, 2, 'Primary Mass', 0)
panel([1673 / W, top_b, 683 / W, top_h], orange_primary, 'orange', 1e-13, -0.42, 9.53, 2, 'Primary Mass', 0)
panel([178 / W, bot_b, 648 / W, bot_h], blue_secondary, 'blue', 1e-13, -0.056, 2.10, 0.25, 'Secondary Mass', 1)
panel([922 / W, bot_b, 661 / W, bot_h], green_secondary, 'green', 1e-13, -0.054, 1.15, 0.2, 'Secondary Mass', 1)
panel([1695 / W, bot_b, 661 / W, bot_h], orange_secondary, 'orange', 1e-14, -0.2, 4.21, 0.5, 'Secondary Mass', 1,
      steps=True)

fig.savefig('out.png', dpi=100)
